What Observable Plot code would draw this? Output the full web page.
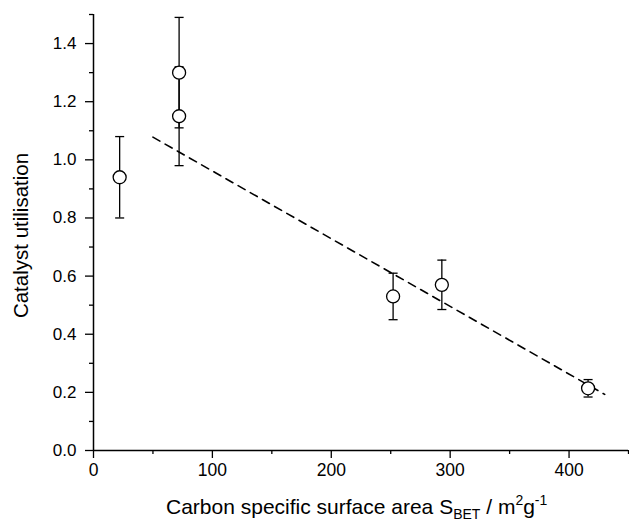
<!DOCTYPE html>
<html>
<head>
<meta charset="utf-8">
<script src="https://cdn.jsdelivr.net/npm/d3@7"></script>
<script src="https://cdn.jsdelivr.net/npm/@observablehq/plot@0.6"></script>
<style>
  html, body { margin: 0; padding: 0; background: #fff; }
  #chart { width: 629px; height: 521px; }
</style>
</head>
<body>
<div id="chart"></div>
<script>
// Data
const surfaceArea = [22, 72, 72, 252, 293, 416];
const utilisation = [0.94, 1.30, 1.15, 0.53, 0.57, 0.214];
const errors      = [0.14, 0.19, 0.17, 0.08, 0.085, 0.03];

// Dashed linear trend line endpoints
const fitX = [50, 430];
const fitY = [1.078, 0.193];

const yMajorTicks = [0, 0.2, 0.4, 0.6, 0.8, 1.0, 1.2, 1.4];
const yMinorTicks = [0.1, 0.3, 0.5, 0.7, 0.9, 1.1, 1.3, 1.5];
const xMajorTicks = [0, 100, 200, 300, 400];
const xMinorTicks = [50, 150, 250, 350, 450];

const points = surfaceArea.map((x, i) => ({x, y: utilisation[i], e: errors[i]}));
const fit = fitX.map((x, i) => ({x, y: fitY[i]}));

const capHalf = 3.8;
const font = "'Liberation Sans', Arial, Helvetica, sans-serif";

const chart = Plot.plot({
  width: 629,
  height: 521,
  marginLeft: 93,
  marginRight: 1,
  marginTop: 14,
  marginBottom: 71,
  style: {fontFamily: font, color: "black", background: "white"},
  x: {domain: [0, 450]},
  y: {domain: [0, 1.5]},
  marks: [
    Plot.axisY(yMajorTicks, {tickSize: 8, tickPadding: 9, tickFormat: d3.format(".1f"), fontSize: 17, label: null, strokeWidth: 1.3}),
    Plot.axisY(yMinorTicks, {tickSize: 4, tickFormat: () => "", label: null, strokeWidth: 1.3}),
    Plot.axisX(xMajorTicks, {tickSize: 8, tickPadding: 5, fontSize: 17.5, label: null, strokeWidth: 1.3}),
    Plot.axisX(xMinorTicks, {tickSize: 4, tickFormat: () => "", label: null, strokeWidth: 1.3}),
    Plot.ruleX([0], {y1: 0, y2: 1.5, stroke: "black", strokeWidth: 1.5}),
    Plot.ruleY([0], {x1: 0, x2: 450, stroke: "black", strokeWidth: 1.5}),
    Plot.line(fit, {x: "x", y: "y", stroke: "black", strokeWidth: 1.6, strokeDasharray: "8,6"}),
    Plot.ruleX(points, {x: "x", y1: d => d.y - d.e, y2: d => d.y + d.e, stroke: "black", strokeWidth: 1.3}),
    Plot.link(points, {x1: d => d.x - capHalf, x2: d => d.x + capHalf, y1: d => d.y + d.e, y2: d => d.y + d.e, stroke: "black", strokeWidth: 1.3}),
    Plot.link(points, {x1: d => d.x - capHalf, x2: d => d.x + capHalf, y1: d => d.y - d.e, y2: d => d.y - d.e, stroke: "black", strokeWidth: 1.3}),
    Plot.dot(points, {x: "x", y: "y", r: 6.5, fill: "white", stroke: "black", strokeWidth: 1.3})
  ]
});

const svg = d3.select(chart);

// Y axis title
svg.append("text")
  .attr("transform", "translate(28,235.5) rotate(-90)")
  .attr("text-anchor", "middle")
  .attr("font-family", font)
  .attr("font-size", 20.5)
  .attr("fill", "black")
  .text("Catalyst utilisation");

// X axis title with subscript / superscripts
const xt = svg.append("text")
  .attr("x", 166)
  .attr("y", 514)
  .attr("text-anchor", "start")
  .attr("font-family", font)
  .attr("font-size", 21)
  .attr("fill", "black");
xt.append("tspan").text("Carbon specific surface area S");
xt.append("tspan").attr("font-size", 14).attr("dy", 5).text("BET");
xt.append("tspan").attr("dy", -5).text(" / m");
xt.append("tspan").attr("font-size", 14).attr("dy", -9).text("2");
xt.append("tspan").attr("dy", 9).text("g");
xt.append("tspan").attr("font-size", 14).attr("dy", -9).text("-1");

document.getElementById("chart").appendChild(chart);
</script>
</body>
</html>
